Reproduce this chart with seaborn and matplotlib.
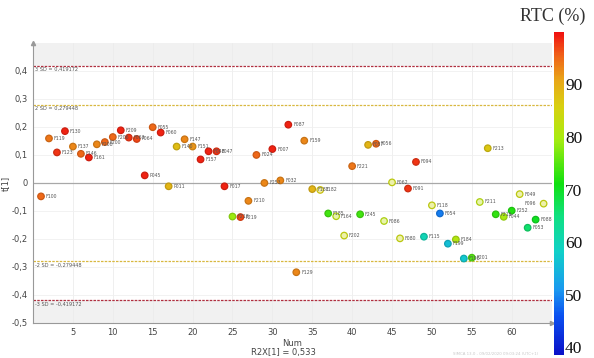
import numpy as np
import pandas as pd
import matplotlib
matplotlib.use("Agg")
import matplotlib.pyplot as plt
import seaborn as sns
from matplotlib.colors import LinearSegmentedColormap, Normalize
from matplotlib.ticker import MultipleLocator, FuncFormatter

# ---------------- data ----------------
num = list(range(1, 65))
t1 = [-0.048, 0.159, 0.109, 0.185, 0.130, 0.104, 0.091, 0.138, 0.146, 0.164,
      0.188, 0.162, 0.157, 0.027, 0.199, 0.180, -0.012, 0.130, 0.156, 0.130,
      0.084, 0.113, 0.113, -0.012, -0.120, -0.122, -0.064, 0.100, 0.000, 0.121,
      0.009, 0.208, -0.319, 0.151, -0.022, -0.025, -0.109, -0.119, -0.188, 0.060,
      -0.112, 0.136, 0.140, -0.136, 0.002, -0.198, -0.020, 0.075, -0.192, -0.080,
      -0.109, -0.217, -0.202, -0.270, -0.267, -0.068, 0.124, -0.112, -0.121, -0.099,
      -0.040, -0.160, -0.131, -0.074]
rtc = [95, 94, 98, 99, 93, 95, 99, 93, 95, 95,
       99, 98, 97, 99, 95, 99, 89, 88, 93, 92,
       99, 99, 98, 99, 79, 97, 93, 95, 93, 99,
       93, 99, 93, 93, 89, 86, 74, 82, 84, 94,
       74, 89, 95, 82, 84, 84, 98, 98, 60, 84,
       49, 56, 81, 57, 75, 82, 87, 73, 80, 72,
       84, 66, 70, 84]
names = ["F100", "F119", "F123", "F130", "F137", "F146", "F161", "F208", "F200", "F206",
         "F209", "F063", "F064", "P045", "F055", "F060", "P011", "F140", "F147", "F151",
         "F157", "F048", "F047", "F017", "F218", "F219", "F210", "F024", "F253", "F007",
         "F032", "F087", "F129", "F159", "F181", "F182", "F185", "F164", "F202", "F221",
         "F245", "F057", "F056", "F086", "F062", "F080", "F091", "F094", "F115", "F118",
         "F054", "F199", "F184", "F198", "F201", "F211", "F213", "F215", "F044", "F252",
         "F049", "F053", "F088", "F096"]
sd2 = 0.279448
sd3 = 0.419172
r2x = "0,533"
cbar_ticks = [40, 50, 60, 70, 80, 90]

df = pd.DataFrame({"Num": num, "t1": t1, "RTC": rtc, "name": names})

# ---------------- style ----------------
sns.set_theme(style="white")
plt.rcParams["font.family"] = ["DejaVu Sans"]

cmap = LinearSegmentedColormap.from_list("rtc", [
    (0.00, "#0a10c8"),
    (0.12, "#0a50f0"),
    (0.20, "#1a98f0"),
    (0.32, "#10d0c8"),
    (0.43, "#10e080"),
    (0.53, "#10e010"),
    (0.67, "#a8ec10"),
    (0.77, "#d8d010"),
    (0.85, "#e8a818"),
    (0.93, "#f06018"),
    (1.00, "#f01010"),
])
norm = Normalize(38.5, 100)

fig = plt.figure(figsize=(5.94, 3.58), dpi=100)
ax = fig.add_axes([0.0556, 0.098, 0.873, 0.782])
cax = fig.add_axes([0.933, 0.008, 0.016, 0.903])

ax.set_xlim(0, 65)
ax.set_ylim(-0.5, 0.5)

# shaded outside-3SD regions
ax.axhspan(sd3, 0.5, color="#f1f1f1", zorder=0, lw=0)
ax.axhspan(-0.5, -sd3, color="#f1f1f1", zorder=0, lw=0)

# grid
for gx in np.arange(5, 65, 5):
    ax.axvline(gx, color="#ececec", lw=0.6, zorder=0.5)
for gy in np.arange(-0.4, 0.45, 0.1):
    ax.axhline(gy, color="#f0f0f0", lw=0.6, zorder=0.5)
ax.axhline(0, color="#a8a8a8", lw=0.9, zorder=1)

# SD lines
for v, col in [(sd2, "#d8b840"), (-sd2, "#d8b840"), (sd3, "#b03040"), (-sd3, "#b03040")]:
    ax.axhline(v, color=col, lw=0.9, ls=(0, (2, 1)), zorder=1.5)

def fmt(v):
    return ("%.6f" % v).replace(".", ",")

lab_kw = dict(fontsize=3.6, color="#555555", va="top", ha="left")
ax.text(0.3, sd3 - 0.004, "3 SD = " + fmt(sd3), **lab_kw)
ax.text(0.3, sd2 - 0.004, "2 SD = " + fmt(sd2), **lab_kw)
ax.text(0.3, -sd2 - 0.004, "-2 SD = " + fmt(-sd2), **lab_kw)
ax.text(0.3, -sd3 - 0.004, "-3 SD = " + fmt(-sd3), **lab_kw)

# scatter
sns.scatterplot(data=df, x="Num", y="t1", hue="RTC", palette=cmap, hue_norm=norm,
                s=22, edgecolor="none", legend=False, ax=ax, zorder=3)
coll = ax.collections[-1]
fcs = np.array([cmap(norm(v)) for v in df["RTC"]])
ecs = fcs.copy()
for i, v in enumerate(df["RTC"]):
    c = np.array(fcs[i])
    if 81.5 <= v <= 86.5:
        fcs[i] = 0.35 * c + 0.65 * np.array([1, 1, 1, 1])
        ecs[i] = c * np.array([0.92, 0.92, 0.92, 1])
    else:
        ecs[i] = c * np.array([0.85, 0.85, 0.85, 1])
coll.set_facecolors(fcs)
coll.set_edgecolors(ecs)
coll.set_linewidths(0.9)

# point labels
for x, y, n in zip(df["Num"], df["t1"], df["name"]):
    if n == "F096":
        ax.text(x - 0.9, y, n, fontsize=3.3, color="#555555", va="center", ha="right", zorder=4)
    else:
        ax.text(x + 0.6, y, n, fontsize=3.3, color="#555555", va="center", ha="left", zorder=4)

# axes styling
for s in ["top", "right"]:
    ax.spines[s].set_visible(False)
for s in ["left", "bottom"]:
    ax.spines[s].set_color("#999999")
    ax.spines[s].set_linewidth(0.8)
ax.plot(1, 0, ">", transform=ax.transAxes, color="#999999", ms=3, clip_on=False)
ax.plot(0, 1, "^", transform=ax.transAxes, color="#999999", ms=3, clip_on=False)

ax.set_xticks([5, 10, 15, 20, 25, 30, 35, 40, 45, 50, 55, 60])
ax.xaxis.set_minor_locator(MultipleLocator(2.5))
ax.set_yticks(np.round(np.arange(-0.5, 0.45, 0.1), 1))
ax.yaxis.set_minor_locator(MultipleLocator(0.05))
ax.yaxis.set_major_formatter(FuncFormatter(
    lambda v, p: "0" if abs(v) < 1e-9 else ("%.1f" % v).replace(".", ",")))
ax.tick_params(axis="both", which="both", direction="out", colors="#999999",
               labelcolor="#444444", labelsize=6, length=2.5, width=0.6, pad=1.5)
ax.tick_params(axis="both", which="minor", length=1.5)

ax.set_xlabel("Num", fontsize=6, color="#444444", labelpad=1)
ax.set_ylabel("t[1]", fontsize=6, color="#444444")
ax.yaxis.set_label_coords(-0.045, 0.5)
fig.text(0.477, 0.014, "R2X[1] = " + r2x, fontsize=6, color="#444444", ha="center", va="center")
fig.text(0.835, 0.006, "SIMCA 13.0 - 09/02/2020 09:03:24 (UTC+1)", fontsize=2.8,
         color="#c8c8c8", ha="center", va="bottom")

# colorbar
sm = plt.cm.ScalarMappable(cmap=cmap, norm=norm)
cb = fig.colorbar(sm, cax=cax)
cb.outline.set_visible(False)
cb.set_ticks(cbar_ticks)
cax.tick_params(length=0, labelsize=12.5, pad=1, labelcolor="#111111")
for t in cax.get_yticklabels():
    t.set_fontfamily("Liberation Serif")
fig.text(0.985, 0.955, "RTC (%)", fontsize=13, family="Liberation Serif",
         color="#333333", ha="right", va="center")

fig.savefig("out.png", dpi=100)
